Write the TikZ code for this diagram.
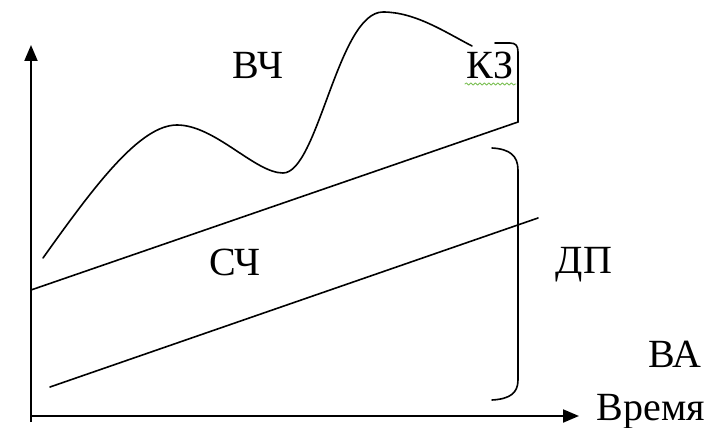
\documentclass[tikz,border=0pt]{standalone}
\usepackage{fontspec}
\setmainfont{Liberation Serif}
\usetikzlibrary{arrows.meta,decorations.pathmorphing}
\definecolor{spellgreen}{RGB}{120,190,80}
\begin{document}
\begin{tikzpicture}[x=1pt,y=-1pt,line width=1.6pt,line cap=round,line join=round,
  lbl/.style={font=\fontsize{40}{48}\selectfont,inner sep=0pt,anchor=base},
  axis/.style={line width=2pt,line cap=butt,-{Triangle[length=16pt,width=13pt]}},
  wavy/.style={spellgreen,line width=0.8pt,decorate,decoration={snake,segment length=4.5pt,amplitude=1.1pt}}]
\useasboundingbox (0,0) rectangle (721,428);
% axes
\coordinate (ybot) at (31,422);
\coordinate (ytop) at (31,45);
\coordinate (xbeg) at (30,416);
\coordinate (xend) at (579,416);
\draw[axis] (ybot) -- (ytop);
\draw[axis] (xbeg) -- (xend);
% straight lines
\coordinate (u1) at (31,290);
\coordinate (u2) at (518,122);
\coordinate (l1) at (50,387);
\coordinate (l2) at (538,218);
\draw (u1) -- (u2);
\draw (l1) -- (l2);
% wavy curve
\coordinate (c0) at (43,258);
\coordinate (c1) at (177,125);
\coordinate (c2) at (283,173);
\coordinate (c3) at (383,12);
\coordinate (c4) at (472,46);
\draw (c0) .. controls (95,185) and (140,125) .. (c1)
           .. controls (215,125) and (255,173) .. (c2)
           .. controls (318,173) and (338,12) .. (c3)
           .. controls (415,12) and (445,32) .. (c4);
% hook at the end of the curve
\coordinate (h0) at (495,43);
\draw (h0) -- (510,43) .. controls (516,43) and (518,46) .. (518,52) -- (u2);
% brace
\coordinate (b0) at (492,148);
\coordinate (b1) at (492,400);
\draw (b0) .. controls (510,149) and (518,156) .. (518,170) -- (518,380)
      .. controls (518,393) and (510,399) .. (b1);
% labels
\node[lbl] (vch) at (258,78) {ВЧ};
\node[lbl] (kz) at (490,78) {КЗ};
\node[lbl] (sch) at (235,275) {СЧ};
\node[lbl] (dp) at (584,273) {ДП};
\node[lbl] (va) at (675,367) {ВА};
\node[lbl] (time) at (651,420) {Время};
\draw[wavy] (465,84) -- (516,84);
\end{tikzpicture}
\end{document}
